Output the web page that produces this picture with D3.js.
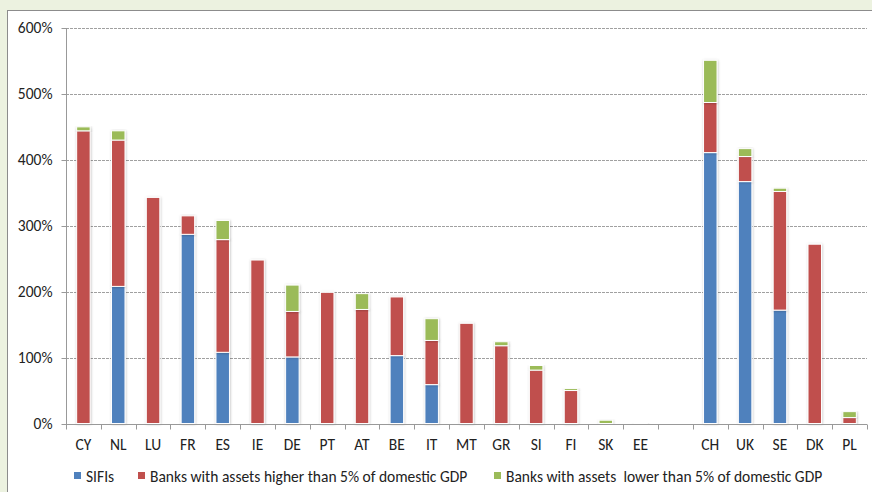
<!DOCTYPE html>
<html>
<head>
<meta charset="utf-8">
<script src="https://cdn.jsdelivr.net/npm/d3@7"></script>
<style>
  body { margin: 0; background: #ecf2e0; }
  svg { display: block; }
  text { font-family: Carlito, "Open Sans", sans-serif; fill: #222; white-space: pre; }
</style>
</head>
<body>
<script>
// categories (blank slot separates euro area from the rest)
var countries = ["CY","NL","LU","FR","ES","IE","DE","PT","AT","BE","IT","MT","GR","SI","FI","SK","EE"," ","CH","UK","SE","DK","PL"];
// values in % of domestic GDP
var sifi = [0, 208, 0, 287, 108, 0, 101, 0, 0, 103, 59, 0, 0, 0, 0, 0, 0, 0, 411, 367, 172, 0, 0];
var high = [444, 222, 343, 28, 171, 248, 69, 199, 173, 89, 67, 152, 118, 81, 50, 0, 0, 0, 76, 38, 180, 272, 9];
var low  = [6, 14, 0, 0, 29, 0, 40, 0, 24, 0, 33, 0, 6, 7, 3, 5, 0.5, 0, 64, 12, 5, 0, 9];
var yTicks = [0, 100, 200, 300, 400, 500, 600];
var seriesNames = ["SIFIs", "Banks with assets higher than 5% of domestic GDP", "Banks with assets  lower than 5% of domestic GDP"];

var width = 872;
var height = 492;
var color = ["#4f81bd", "#c0504d", "#9bbb59"];
var fs = 15.5;

var svg = d3.select("body")
            .append("svg")
            .attr("width", width)
            .attr("height", height);

var defs = svg.append("defs");
var f = defs.append("filter").attr("id", "sh").attr("x", "-40%").attr("y", "-10%").attr("width", "180%").attr("height", "120%");
f.append("feDropShadow").attr("dx", 0.5).attr("dy", 0.5).attr("stdDeviation", 1).attr("flood-color", "#000").attr("flood-opacity", 0.25);

// white chart area with frame
svg.append("rect")
   .attr("x", 7.5).attr("y", 10.5)
   .attr("width", width + 10).attr("height", height)
   .attr("fill", "#fff")
   .attr("stroke", "#8c8c8c")
   .attr("stroke-width", 1);

var x = d3.scaleBand().domain(countries).range([66, 867]).padding(0);
var y = d3.scaleLinear().domain([0, 600]).range([423.5, 28]);

var barW = 13.5;

// gridlines
svg.append("g").selectAll("line")
   .data(yTicks.slice(1))
   .enter().append("line")
   .attr("x1", 66).attr("x2", 867)
   .attr("y1", function(d) { return Math.round(y(d)) + 0.5; })
   .attr("y2", function(d) { return Math.round(y(d)) + 0.5; })
   .attr("stroke", "#a0a0a0")
   .attr("stroke-dasharray", "3,1");

// y axis
var yAxis = svg.append("g")
   .attr("transform", "translate(66.5,0)")
   .call(d3.axisLeft(y).tickValues(yTicks).tickSize(5).tickPadding(9).tickFormat(function(d) { return d + "%"; }));
yAxis.select(".domain").attr("stroke", "#999").attr("d", "M0," + y(600) + "V" + (y(0) + 0.5));
yAxis.selectAll(".tick line").attr("stroke", "#999");
yAxis.selectAll(".tick text").attr("font-size", fs).attr("fill", "#222");
yAxis.selectAll(".tick").attr("transform", function(d) { return "translate(0," + (Math.round(y(d)) + 0.5) + ")"; });

// stacked bars
var stack = countries.map(function(c, i) { return { c: c, v: [sifi[i], high[i], low[i]] }; });
var bars = svg.append("g");
stack.forEach(function(d) {
    var base = 0;
    d.v.forEach(function(v, k) {
        if (v > 0) {
            bars.append("rect")
                .attr("x", x(d.c) + (x.bandwidth() - barW) / 2)
                .attr("y", y(base + v))
                .attr("width", barW)
                .attr("height", y(base) - y(base + v))
                .attr("fill", color[k])
                .attr("stroke", "#fff")
                .attr("stroke-width", 1)
                .attr("filter", "url(#sh)");
        }
        base += v;
    });
});

// x axis
var xg = svg.append("g").attr("transform", "translate(0," + (Math.round(y(0)) + 0.5) + ")");
xg.append("line").attr("x1", 66).attr("x2", 867).attr("stroke", "#999");
xg.selectAll(".bt")
  .data(countries.concat(["end"]))
  .enter().append("line")
  .attr("x1", function(d, i) { return Math.round(66 + i * x.step()) + 0.5; })
  .attr("x2", function(d, i) { return Math.round(66 + i * x.step()) + 0.5; })
  .attr("y1", 0).attr("y2", 5)
  .attr("stroke", "#999");
xg.selectAll("text")
  .data(countries)
  .enter().append("text")
  .attr("x", function(d) { return x(d) + x.bandwidth() / 2; })
  .attr("y", 25)
  .attr("text-anchor", "middle")
  .attr("font-size", fs)
  .text(function(d) { return d.trim(); });

// legend
var legX = [74, 138, 494];
var leg = svg.append("g");
seriesNames.forEach(function(n, i) {
    leg.append("rect").attr("x", legX[i]).attr("y", 472).attr("width", 7).attr("height", 7).attr("fill", color[i]);
    leg.append("text").attr("x", legX[i] + 12).attr("y", 482).attr("font-size", fs).text(n);
});
</script>
</body>
</html>
